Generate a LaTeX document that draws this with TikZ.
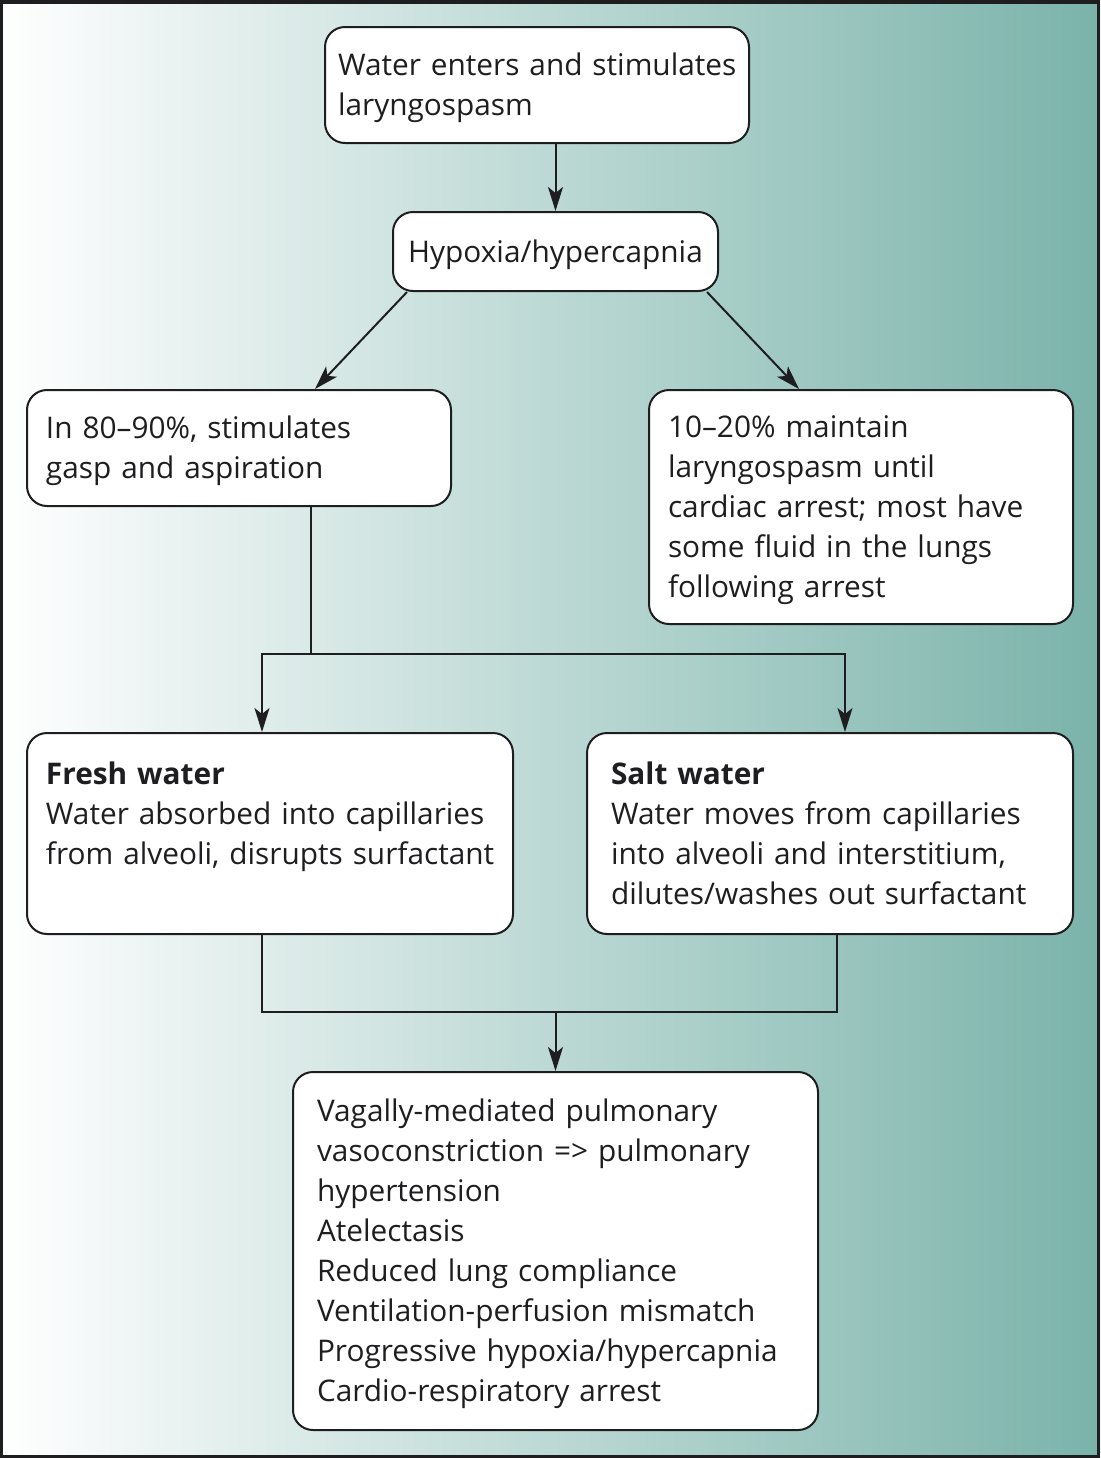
\documentclass[tikz,border=0pt]{standalone}
\usepackage{fontspec}
\setmainfont{Open Sans}
\usetikzlibrary{arrows.meta,calc}
\definecolor{tealbg}{RGB}{122,179,170}
\definecolor{ink}{RGB}{30,30,32}
\newcommand\toprule{\rule{0pt}{14.5pt}}
\tikzset{
  box/.style={draw=ink, line width=1pt, rounded corners=10pt, fill=white,
    text=ink, font=\fontsize{14.9}{20}\selectfont, align=left, inner ysep=0pt},
  conn/.style={draw=ink, line width=1pt},
  arr/.style={conn, -{Stealth[length=12pt,width=7.5pt,inset=3pt]}},
}
\begin{document}
\begin{tikzpicture}[x=0.5pt,y=-0.5pt]
\useasboundingbox (0,0) rectangle (1100,1458);
\fill[left color=white, right color=tealbg] (0,0) rectangle (1100,1458);
\draw[ink, line width=1.75pt] (1.75,1.75) rectangle (1098.25,1456.25);

\node[box, inner xsep=6.5pt, text width=199pt, minimum height=58pt] (b1) at (537,85)
  {\toprule\mbox{Water enters and stimulates}\\\mbox{laryngospasm}};
\node[box, inner xsep=7.5pt, text width=147.5pt, minimum height=39.5pt, align=center] (b2) at (555.5,251.5)
  {\toprule\mbox{Hypoxia/hypercapnia}};
\node[box, inner xsep=9.5pt, text width=193pt, minimum height=58pt] (b3) at (239,448)
  {\toprule\mbox{In 80–90\%, stimulates}\\\mbox{gasp and aspiration}};
\node[box, inner xsep=9.5pt, text width=193pt, minimum height=117pt] (b4) at (861,507)
  {\toprule\mbox{10–20\% maintain}\\\mbox{laryngospasm until}\\\mbox{cardiac arrest; most have}\\\mbox{some fluid in the lungs}\\\mbox{following arrest}};
\node[box, inner xsep=9.5pt, text width=224pt, minimum height=100.5pt] (b5) at (270,833.5)
  {\mbox{\bfseries Fresh water}\\\mbox{Water absorbed into capillaries}\\\mbox{from alveoli, disrupts surfactant}\\\mbox{}};
\node[box, inner xsep=12pt, text width=219pt, minimum height=100.5pt] (b6) at (830,833.5)
  {\mbox{\bfseries Salt water}\\\mbox{Water moves from capillaries}\\\mbox{into alveoli and interstitium,}\\\mbox{dilutes/washes out surfactant}};
\node[box, inner xsep=12pt, text width=238.5pt, minimum height=179pt] (b7) at (555.5,1251)
  {\toprule\mbox{Vagally-mediated pulmonary}\\\mbox{vasoconstriction => pulmonary}\\\mbox{hypertension}\\\mbox{Atelectasis}\\\mbox{Reduced lung compliance}\\\mbox{Ventilation-perfusion mismatch}\\\mbox{Progressive hypoxia/hypercapnia}\\\mbox{Cardio-respiratory arrest}};

\coordinate (j1) at (311,654);
\coordinate (j5) at (262,654);
\coordinate (j6) at (845,654);
\coordinate (m5) at (262,1012);
\coordinate (m6) at (837,1012);

\draw[arr] (b1.south -| b2.north) -- (b2.north);
\draw[arr] ($(b2.south west)+(15,0)$) -- ($(b3.north west)+(289,0)$);
\draw[arr] ($(b2.south east)+(-12,0)$) -- ($(b4.north west)+(151,0)$);
\draw[conn] (b3.south -| j1) -- (j1);
\draw[arr] (j1) -- (j5) -- (b5.north -| j5);
\draw[arr] (j1) -- (j6) -- (b6.north -| j6);
\draw[conn] (b5.south -| m5) -- (m5) -- (m6) -- (b6.south -| m6);
\draw[arr] (b7.north |- m5) -- (b7.north);
\end{tikzpicture}
\end{document}
